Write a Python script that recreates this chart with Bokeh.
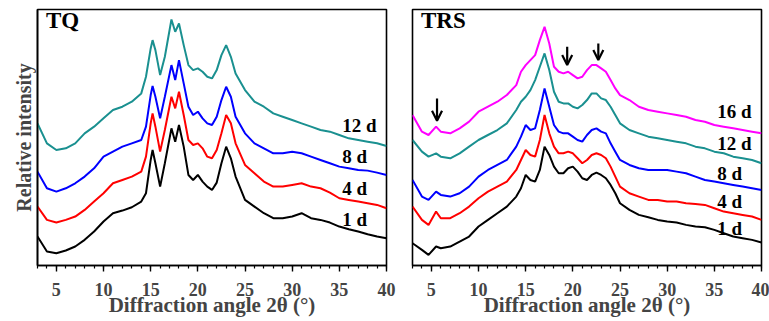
from bokeh.plotting import figure
from bokeh.models import Range1d, FixedTicker, Label, Arrow, OpenHead, ColumnDataSource
from bokeh.layouts import row
from bokeh.embed import file_html
from bokeh.resources import INLINE

FONT = "Liberation Serif"

# ---------------- TQ panel data (relative intensity, stacked, a.u.) ----------------
tq_x = [3, 4, 5, 6, 7, 8, 9, 10, 11, 12, 13, 14,
        14.5, 15, 15.2, 15.5,
        16, 16.5, 17.2, 17.6, 18, 18.5, 19, 19.5, 20, 20.5, 21, 21.5, 22, 22.5, 23, 23.5, 24,
        25, 26, 27, 28, 29, 30, 31, 32, 33, 34, 35, 36, 37, 38, 39, 40]
tq_1d = [87, 42, 37, 45, 57, 77, 102, 132, 157, 165, 175, 192,
         217, 317, 347, 307,
         237, 307, 412, 372, 422, 357, 272, 257, 272, 252, 237, 227, 249, 307, 357, 322, 267,
         197, 177, 157, 142, 142, 147, 157, 142, 137, 129, 117, 109, 102, 94, 87, 82]
tq_4d = [177, 137, 129, 137, 147, 167, 192, 217, 247, 257, 267, 282,
         327, 427, 457, 417,
         342, 407, 507, 472, 522, 452, 377, 362, 367, 352, 327, 322, 347, 397, 452, 427, 367,
         302, 277, 252, 237, 237, 242, 247, 237, 232, 219, 202, 197, 192, 187, 182, 172]
tq_8d = [282, 232, 222, 232, 247, 267, 292, 327, 342, 357, 367, 377,
         417, 512, 539, 507,
         442, 507, 602, 557, 617, 547, 477, 452, 462, 442, 427, 422, 447, 497, 537, 507, 447,
         397, 367, 352, 337, 337, 342, 337, 327, 317, 307, 297, 292, 287, 285, 279, 272]
tq_12d = [427, 367, 347, 352, 367, 397, 417, 442, 467, 477, 492, 517,
          567, 652, 677, 647,
          572, 627, 739, 702, 727, 662, 602, 587, 592, 582, 567, 562, 587, 632, 662, 627, 577,
          527, 492, 477, 457, 447, 437, 427, 417, 407, 402, 392, 382, 377, 372, 367, 359]

# ---------------- TRS panel data ----------------
trs_x = [3, 4, 4.7, 5.5, 6, 7, 8, 9, 10, 11, 12, 13, 14,
         14.5, 15, 15.5, 16, 16.5, 17, 17.5, 18, 18.5, 19, 19.5, 20, 20.5, 21, 21.5, 22, 22.5,
         23, 23.5, 24, 24.5,
         25, 26, 27, 28, 29, 30, 31, 32, 33, 34, 35, 36, 37, 38, 39, 40]
trs_1d = [67, 47, 32, 57, 52, 57, 72, 87, 117, 137, 157, 177, 207,
          232, 272, 257, 252, 287, 357, 332, 297, 277, 277, 292, 297, 282, 262, 257, 272, 279,
          272, 262, 242, 217,
          187, 167, 152, 145, 137, 132, 129, 122, 117, 115, 107, 97, 87, 82, 77, 69]
trs_4d = [177, 137, 122, 162, 142, 142, 157, 177, 202, 222, 237, 252, 287,
          317, 347, 332, 327, 377, 452, 397, 357, 337, 337, 342, 337, 322, 307, 317, 332, 337,
          332, 322, 297, 267,
          237, 217, 207, 197, 197, 192, 192, 187, 185, 182, 172, 162, 157, 152, 147, 137]
trs_8d = [257, 207, 197, 222, 212, 207, 217, 237, 267, 287, 302, 317, 357,
          387, 422, 407, 412, 467, 532, 477, 422, 402, 397, 397, 387, 377, 372, 392, 407, 412,
          402, 397, 367, 342,
          317, 302, 292, 287, 287, 287, 282, 277, 267, 257, 252, 247, 242, 237, 232, 227]
trs_12d = [377, 342, 327, 337, 327, 322, 337, 357, 377, 392, 407, 427, 467,
           492, 507, 527, 557, 597, 637, 587, 522, 492, 487, 487, 477, 472, 482, 497, 517, 517,
           502, 497, 477, 452,
           427, 407, 397, 387, 382, 377, 372, 367, 357, 352, 342, 337, 327, 322, 317, 307]
trs_16d = [452, 402, 392, 417, 402, 397, 412, 432, 462, 477, 492, 512, 542,
           582, 602, 617, 632, 677, 717, 667, 597, 582, 577, 582, 572, 562, 567, 587, 602, 602,
           592, 582, 557, 532,
           512, 497, 477, 467, 462, 457, 452, 447, 437, 432, 422, 417, 412, 407, 402, 397]

# labels and annotation data
tq_labels = ["1 d", "4 d", "8 d", "12 d"]
tq_label_y = [137, 232, 327, 422]
trs_labels = ["1 d", "4 d", "8 d", "12 d", "16 d"]
trs_label_y = [112, 192, 277, 367, 462]
label_x = 35.3

arrow_x = [5.6, 19.4, 22.7]
arrow_top = [502, 657, 667]
arrow_bottom = [435, 602, 617]

colors = {"1 d": "#000000", "4 d": "#ff0000", "8 d": "#0000ff",
          "12 d": "#1a9090", "16 d": "#ff00ff"}

major_ticks = [5, 10, 15, 20, 25, 30, 35, 40]
minor_ticks = list(range(3, 41))


def make_panel(title, x, series, names, label_y, show_ylabel, bl, br):
    p = figure(width=bl + 349 + br, height=321,
               x_range=Range1d(3, 40), y_range=Range1d(0, 769),
               output_backend="svg", toolbar_location=None,
               min_border_left=bl, min_border_right=br,
               min_border_top=9, min_border_bottom=56)
    p.grid.visible = False
    p.outline_line_color = "black"
    p.outline_line_width = 1.6
    p.background_fill_color = "white"
    p.border_fill_color = "white"

    for name, ys in zip(names, series):
        p.line(x, ys, line_color=colors[name], line_width=2)

    for name, ly in zip(names, label_y):
        p.add_layout(Label(x=label_x, y=ly, text=name, text_align="left",
                           text_baseline="middle", text_font=FONT,
                           text_font_style="bold", text_font_size="19px",
                           text_color="black"))

    p.add_layout(Label(x=3.9, y=735, text=title, text_align="left",
                       text_baseline="middle", text_font=FONT,
                       text_font_style="bold", text_font_size="23px",
                       text_color="black"))

    xa = p.xaxis[0]
    xa.ticker = FixedTicker(ticks=major_ticks, minor_ticks=minor_ticks)
    xa.axis_label = "Diffraction angle 2θ (°)"
    xa.axis_label_text_font = FONT
    xa.axis_label_text_font_style = "bold"
    xa.axis_label_text_font_size = "21px"
    xa.axis_label_standoff = -6
    xa.major_label_text_font = FONT
    xa.major_label_text_font_style = "bold"
    xa.major_label_text_font_size = "18px"
    xa.major_label_standoff = 11
    xa.major_tick_in = 0
    xa.major_tick_out = 6
    xa.minor_tick_in = 0
    xa.minor_tick_out = 3
    xa.axis_line_width = 1.6
    xa.major_tick_line_width = 1.4
    xa.minor_tick_line_width = 1.2

    ya = p.yaxis[0]
    if show_ylabel:
        ya.ticker = FixedTicker(ticks=[])
        ya.axis_label = "Relative intensity"
        ya.axis_label_text_font = FONT
        ya.axis_label_text_font_style = "bold"
        ya.axis_label_text_font_size = "20px"
        ya.axis_label_standoff = 3
        ya.major_tick_out = 0
        ya.minor_tick_out = 0
        ya.major_label_text_font_size = "0px"
        ya.axis_line_width = 1.6
    else:
        ya.visible = False
    return p


p1 = make_panel("TQ", tq_x, [tq_1d, tq_4d, tq_8d, tq_12d], tq_labels, tq_label_y,
                True, 37, 10)
p2 = make_panel("TRS", trs_x, [trs_1d, trs_4d, trs_8d, trs_12d, trs_16d], trs_labels,
                trs_label_y, False, 16, 8)

arrow_src = ColumnDataSource(dict(x=arrow_x, y0=arrow_top, y1=arrow_bottom))
p2.add_layout(Arrow(end=OpenHead(size=10, line_width=2.2, line_color="black"),
                    x_start="x", y_start="y0", x_end="x", y_end="y1",
                    line_width=2.2, line_color="black", source=arrow_src))

layout = row(p1, p2)
open("out.html", "w").write(file_html(layout, INLINE))
